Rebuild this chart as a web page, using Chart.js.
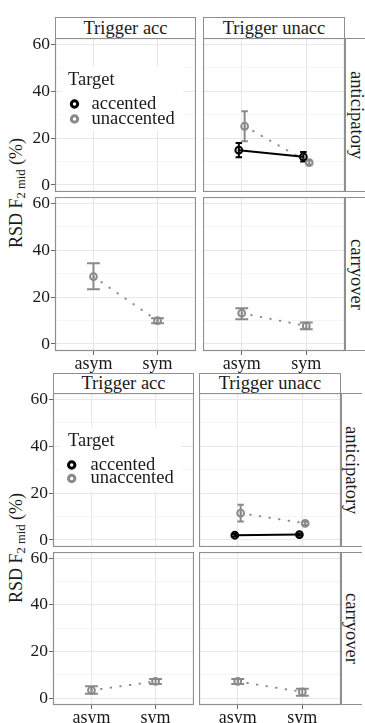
<!DOCTYPE html>
<html>
<head>
<meta charset="utf-8">
<script src="https://cdn.jsdelivr.net/npm/chart.js@4.4.1/dist/chart.umd.min.js"></script>
<style>
  body { margin: 0; background: #fff; font-family: "Liberation Serif", serif; }
  #wrap { position: relative; width: 365px; height: 723px; overflow: hidden; background: #fff; }
  #wrap canvas { position: absolute; }
  .strip { position: absolute; box-sizing: border-box; border: 1px solid #8f8f8f; border-bottom: 1px solid #555;
           text-align: center; font-size: 18.5px; color: #1a1a1a; background: #fff; }
  .rstrip { position: absolute; box-sizing: border-box; border-left: 1px solid #8f8f8f; border-top: 1px solid #8f8f8f;
            border-bottom: 1px solid #8f8f8f; writing-mode: vertical-rl; text-align: center; font-size: 18.5px;
            color: #1a1a1a; background: #fff; }
  .ytitle { position: absolute; white-space: nowrap; font-size: 18px; color: #1a1a1a;
            transform: translate(-50%, -50%) rotate(-90deg); }
  .ytitle sub { font-size: 0.7em; vertical-align: baseline; position: relative; top: 0.25em; }
</style>
</head>
<body>
<div id="wrap"></div>
<script>
// ---- labels ----
const categories = ['asym', 'sym'];
const seriesNames = ['accented', 'unaccented'];
const triggerLabels = ['Trigger acc', 'Trigger unacc'];
const directionLabels = ['anticipatory', 'carryover'];
const legendTitle = 'Target';
const yTickValues = [0, 10, 20, 30, 40, 50, 60];
const yLabelValues = [0, 20, 40, 60];

// ---- top figure ----
const topAntUnaccAccentedMean = [14.8, 12.0];
const topAntUnaccAccentedLow = [11.8, 10.0];
const topAntUnaccAccentedHigh = [17.9, 14.0];
const topAntUnaccUnaccentedMean = [25.0, 9.5];
const topAntUnaccUnaccentedLow = [18.6, 8.7];
const topAntUnaccUnaccentedHigh = [31.4, 10.3];
const topCarAccUnaccentedMean = [28.7, 9.9];
const topCarAccUnaccentedLow = [23.3, 8.8];
const topCarAccUnaccentedHigh = [34.4, 11.0];
const topCarUnaccUnaccentedMean = [13.1, 7.7];
const topCarUnaccUnaccentedLow = [10.5, 6.3];
const topCarUnaccUnaccentedHigh = [15.2, 9.1];

// ---- bottom figure ----
const botAntUnaccAccentedMean = [2.0, 2.3];
const botAntUnaccAccentedLow = [1.5, 1.8];
const botAntUnaccAccentedHigh = [2.5, 2.8];
const botAntUnaccUnaccentedMean = [11.4, 7.1];
const botAntUnaccUnaccentedLow = [7.9, 6.4];
const botAntUnaccUnaccentedHigh = [15.0, 7.8];
const botCarAccUnaccentedMean = [3.3, 7.1];
const botCarAccUnaccentedLow = [1.8, 6.0];
const botCarAccUnaccentedHigh = [5.0, 8.2];
const botCarUnaccUnaccentedMean = [7.1, 2.6];
const botCarUnaccUnaccentedLow = [6.0, 1.0];
const botCarUnaccUnaccentedHigh = [8.2, 4.0];

// styles
const seriesColors = ['#000000', '#8a8a8a'];
const seriesDash = [[], [0.5, 9.2]];
const FONT = '"Liberation Serif", serif';
const Y_MIN = -3, Y_MAX = 62.6;
const X_MIN = 0.4, X_MAX = 2.6;
const DODGE = 0.09;
const CAP = 0.2;

const s = (idx, mean, low, high) => ({ idx, mean, low, high });

const figures = [
  {
    panels: [
      [[], [s(0, topAntUnaccAccentedMean, topAntUnaccAccentedLow, topAntUnaccAccentedHigh),
            s(1, topAntUnaccUnaccentedMean, topAntUnaccUnaccentedLow, topAntUnaccUnaccentedHigh)]],
      [[s(1, topCarAccUnaccentedMean, topCarAccUnaccentedLow, topCarAccUnaccentedHigh)],
       [s(1, topCarUnaccUnaccentedMean, topCarUnaccUnaccentedLow, topCarUnaccUnaccentedHigh)]]
    ],
    strip: [17, 38], rows: [[38, 192], [197, 351]], cols: [[55, 196], [203, 345]], rstrip: [345, 367],
    titleY: 193,
    legend: { box: [7, 28, 121, 64], title: [13, 42], keyX: 19.5, textX: 36.5, rowY: [66, 81] }
  },
  {
    panels: [
      [[], [s(0, botAntUnaccAccentedMean, botAntUnaccAccentedLow, botAntUnaccAccentedHigh),
            s(1, botAntUnaccUnaccentedMean, botAntUnaccUnaccentedLow, botAntUnaccUnaccentedHigh)]],
      [[s(1, botCarAccUnaccentedMean, botCarAccUnaccentedLow, botCarAccUnaccentedHigh)],
       [s(1, botCarUnaccUnaccentedMean, botCarUnaccUnaccentedLow, botCarUnaccUnaccentedHigh)]]
    ],
    strip: [373, 393], rows: [[393, 547], [552, 705]], cols: [[53, 194], [199, 341]], rstrip: [341, 362],
    titleY: 548,
    legend: { box: [7, 34, 121, 64], title: [15, 48.5], keyX: 18.7, textX: 37.5, rowY: [72, 85.5] }
  }
];

const wrap = document.getElementById('wrap');

// error bars drawn under the points
const errorBars = {
  id: 'errorBars',
  beforeDatasetsDraw(chart) {
    const { ctx, scales: { x, y } } = chart;
    chart.data.datasets.forEach(ds => {
      ctx.save();
      ctx.strokeStyle = ds.borderColor;
      ctx.lineWidth = 2;
      ds.data.forEach((p, i) => {
        const px = x.getPixelForValue(p.x);
        const lo = y.getPixelForValue(ds.low[i]);
        const hi = y.getPixelForValue(ds.high[i]);
        const c0 = x.getPixelForValue(p.x - ds.capHalf);
        const c1 = x.getPixelForValue(p.x + ds.capHalf);
        ctx.beginPath();
        ctx.moveTo(px, lo); ctx.lineTo(px, hi);
        ctx.moveTo(c0, lo); ctx.lineTo(c1, lo);
        ctx.moveTo(c0, hi); ctx.lineTo(c1, hi);
        ctx.stroke();
      });
      ctx.restore();
    });
  }
};

const panelBorder = {
  id: 'panelBorder',
  afterDraw(chart) {
    const { ctx, chartArea: a } = chart;
    ctx.save();
    ctx.strokeStyle = '#8f8f8f';
    ctx.lineWidth = 1.2;
    ctx.strokeRect(a.left + 0.5, a.top + 0.5, a.right - a.left - 1, a.bottom - a.top - 1);
    ctx.restore();
  }
};

function legendPlugin(lg) {
  return {
    id: 'panelLegend',
    afterDatasetsDraw(chart) {
      const { ctx, chartArea: a } = chart;
      ctx.save();
      ctx.fillStyle = '#fff';
      ctx.fillRect(a.left + lg.box[0], a.top + lg.box[1], lg.box[2], lg.box[3]);
      ctx.fillStyle = '#1a1a1a';
      ctx.font = '18.5px ' + FONT;
      ctx.textBaseline = 'middle';
      ctx.fillText(legendTitle, a.left + lg.title[0], a.top + lg.title[1]);
      seriesNames.forEach((name, i) => {
        const cy = a.top + lg.rowY[i];
        ctx.strokeStyle = seriesColors[i];
        ctx.lineWidth = 3;
        ctx.beginPath();
        ctx.arc(a.left + lg.keyX, cy, 3.2, 0, Math.PI * 2);
        ctx.stroke();
        ctx.fillStyle = '#1a1a1a';
        ctx.fillText(name, a.left + lg.textX, cy);
      });
      ctx.restore();
    }
  };
}

function makePanel(fig, r, c) {
  const [x0, x1] = fig.cols[c];
  const [y0, y1] = fig.rows[r];
  const showY = c === 0, showX = r === fig.rows.length - 1;
  const left = showY ? 0 : x0;
  const axisW = showY ? x0 : 0;
  const axisH = showX ? 24 : 0;
  const canvas = document.createElement('canvas');
  canvas.width = x1 - left;
  canvas.height = y1 - y0 + axisH;
  canvas.style.left = left + 'px';
  canvas.style.top = y0 + 'px';
  wrap.appendChild(canvas);

  const list = fig.panels[r][c];
  const n = list.length;
  const datasets = list.map((sr, k) => {
    const off = n > 1 ? (k - (n - 1) / 2) * DODGE : 0;
    return {
      label: seriesNames[sr.idx],
      data: sr.mean.map((v, i) => ({ x: i + 1 + off, y: v })),
      low: sr.low,
      high: sr.high,
      capHalf: CAP / 2 / Math.max(n, 1),
      showLine: true,
      borderColor: seriesColors[sr.idx],
      borderWidth: 2,
      borderDash: seriesDash[sr.idx],
      borderCapStyle: 'round',
      pointRadius: 3.4,
      pointHoverRadius: 3.4,
      pointBorderWidth: 2,
      pointBackgroundColor: 'rgba(255,255,255,0)',
      pointBorderColor: seriesColors[sr.idx]
    };
  });

  const plugins = [errorBars, panelBorder];
  if (r === 0 && c === 0) plugins.push(legendPlugin(fig.legend));

  new Chart(canvas, {
    type: 'scatter',
    data: { datasets },
    plugins,
    options: {
      responsive: false,
      animation: false,
      devicePixelRatio: 1,
      layout: { padding: 0, autoPadding: false },
      plugins: { legend: { display: false }, tooltip: { enabled: false } },
      scales: {
        x: {
          type: 'linear', min: X_MIN, max: X_MAX,
          afterBuildTicks: sc => { sc.ticks = categories.map((_, i) => ({ value: i + 1 })); },
          afterFit: sc => { sc.height = axisH; sc.paddingLeft = 0; sc.paddingRight = 0; },
          border: { display: false },
          grid: { color: '#e8e8e8', lineWidth: 1, drawTicks: showX, tickLength: 4, tickColor: '#666' },
          ticks: {
            display: showX, autoSkip: false, maxRotation: 0, padding: -2, color: '#1a1a1a',
            font: { family: FONT, size: 18 },
            callback: v => categories[Math.round(v) - 1]
          }
        },
        y: {
          type: 'linear', min: Y_MIN, max: Y_MAX,
          afterBuildTicks: sc => { sc.ticks = yTickValues.map(v => ({ value: v })); },
          afterFit: sc => { sc.width = axisW; sc.paddingTop = 0; sc.paddingBottom = 0; },
          border: { display: false },
          grid: {
            color: ctx => yLabelValues.includes(ctx.tick.value) ? '#e8e8e8' : '#f3f3f3',
            lineWidth: ctx => yLabelValues.includes(ctx.tick.value) ? 1 : 0.8,
            drawTicks: showY, tickLength: 4,
            tickColor: ctx => yLabelValues.includes(ctx.tick.value) ? '#666' : 'rgba(0,0,0,0)'
          },
          ticks: {
            display: showY, autoSkip: false, padding: 1, color: '#1a1a1a',
            font: { family: FONT, size: 17.5 },
            callback: v => yLabelValues.includes(v) ? String(v) : ''
          }
        }
      }
    }
  });
}

function build() {
  figures.forEach(fig => {
    // column strips
    fig.cols.forEach(([x0, x1], c) => {
      const d = document.createElement('div');
      d.className = 'strip';
      d.style.left = x0 + 'px';
      d.style.top = fig.strip[0] + 'px';
      d.style.width = (x1 - x0) + 'px';
      d.style.height = (fig.strip[1] - fig.strip[0] + 1) + 'px';
      d.style.lineHeight = (fig.strip[1] - fig.strip[0] - 1) + 'px';
      d.textContent = triggerLabels[c];
      wrap.appendChild(d);
    });
    // row strips
    fig.rows.forEach(([y0, y1], r) => {
      const d = document.createElement('div');
      d.className = 'rstrip';
      d.style.left = fig.rstrip[0] + 'px';
      d.style.top = y0 + 'px';
      d.style.width = (fig.rstrip[1] - fig.rstrip[0]) + 'px';
      d.style.height = (y1 - y0) + 'px';
      d.style.lineHeight = (fig.rstrip[1] - fig.rstrip[0] - 1) + 'px';
      d.textContent = directionLabels[r];
      wrap.appendChild(d);
    });
    // y axis title
    const t = document.createElement('div');
    t.className = 'ytitle';
    t.style.left = '16px';
    t.style.top = fig.titleY + 'px';
    t.innerHTML = 'RSD F<sub>2 mid</sub> (%)';
    wrap.appendChild(t);

    fig.rows.forEach((_, r) => fig.cols.forEach((_, c) => makePanel(fig, r, c)));
  });
}

document.fonts.load('18px "Liberation Serif"').then(build, build);
</script>
</body>
</html>
